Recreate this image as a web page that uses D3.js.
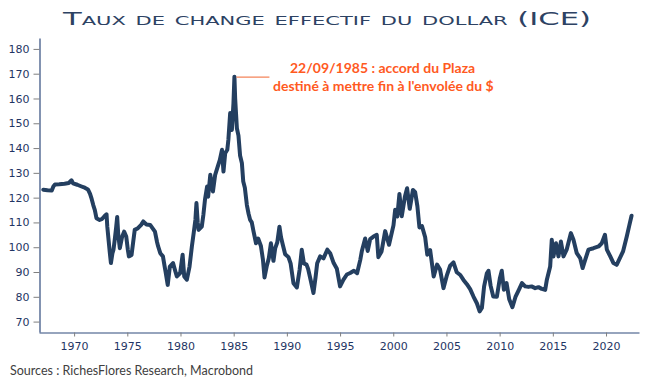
<!DOCTYPE html>
<html><head><meta charset="utf-8">
<script src="https://cdn.jsdelivr.net/npm/d3@7"></script>
<style>
html,body{margin:0;padding:0;background:#fff;}
svg{display:block;}
</style></head>
<body>
<svg id="chart" width="652" height="391"></svg>
<script>
const titleText = "Taux de change effectif du dollar (ICE)";
const sourceText = "Sources : RichesFlores Research, Macrobond";
const noteLines = ["22/09/1985 : accord du Plaza", "destiné à mettre fin à l'envolée du $"];
const xTicks = [1970,1975,1980,1985,1990,1995,2000,2005,2010,2015,2020];
const yTicks = [70,80,90,100,110,120,130,140,150,160,170,180];
const years = [1967.10,1967.50,1967.90,1968.05,1968.20,1968.6,1969.1,1969.5,1969.76,1969.9,1970.3,1970.7,1971.0,1971.3,1971.5,1971.65,1971.8,1971.95,1972.1,1972.4,1972.6,1972.85,1973.05,1973.12,1973.25,1973.35,1973.46,1973.6,1973.7,1973.8,1973.95,1974.05,1974.15,1974.3,1974.5,1974.7,1974.9,1975.05,1975.15,1975.4,1975.55,1975.7,1976.0,1976.3,1976.5,1976.8,1977.15,1977.4,1977.6,1977.8,1977.9,1978.1,1978.35,1978.5,1978.6,1978.8,1979.0,1979.3,1979.5,1979.66,1979.97,1980.2,1980.35,1980.6,1980.85,1981.07,1981.25,1981.4,1981.5,1981.62,1981.7,1982.0,1982.15,1982.3,1982.5,1982.6,1982.8,1983.05,1983.26,1983.5,1983.7,1983.9,1984.04,1984.2,1984.4,1984.5,1984.67,1984.83,1984.98,1985.07,1985.14,1985.2,1985.3,1985.45,1985.6,1985.77,1985.9,1986.05,1986.24,1986.4,1986.55,1986.7,1986.86,1987.1,1987.3,1987.56,1987.75,1987.9,1988.1,1988.3,1988.5,1988.74,1988.9,1989.1,1989.3,1989.45,1989.6,1989.84,1990.15,1990.35,1990.62,1990.94,1991.2,1991.4,1991.6,1991.85,1992.0,1992.25,1992.5,1992.7,1992.85,1993.13,1993.44,1993.8,1994.07,1994.4,1994.7,1995.0,1995.32,1995.64,1995.95,1996.3,1996.6,1996.9,1997.05,1997.36,1997.6,1997.83,1998.14,1998.45,1998.6,1998.9,1999.24,1999.6,2000.02,2000.18,2000.38,2000.58,2000.8,2001.1,2001.3,2001.55,2001.85,2002.06,2002.27,2002.46,2002.7,2003.0,2003.2,2003.47,2003.8,2004.12,2004.4,2004.72,2005.03,2005.35,2005.66,2005.97,2006.3,2006.6,2006.92,2007.23,2007.54,2007.86,2008.12,2008.33,2008.54,2008.8,2008.95,2009.15,2009.4,2009.74,2010.02,2010.2,2010.4,2010.65,2010.9,2011.2,2011.5,2011.85,2012.1,2012.4,2012.7,2013.0,2013.34,2013.65,2013.96,2014.28,2014.44,2014.75,2014.9,2015.06,2015.3,2015.53,2015.76,2016.0,2016.3,2016.7,2016.94,2017.25,2017.57,2017.8,2018.04,2018.35,2018.82,2019.3,2019.6,2019.9,2020.08,2020.4,2020.7,2021.0,2021.3,2021.6,2021.95,2022.2,2022.4];
const values = [123.2,123.0,122.9,124.5,125.3,125.4,125.6,125.9,127.0,125.8,125.2,124.5,124.0,123.3,121.5,119.5,117.0,115.0,111.7,111.0,111.3,112.5,113.3,108.3,102.5,98,93.6,97.5,99,102.3,108,112.2,105,99.6,104,106.3,104.3,99,96.3,96.9,102,107,107.7,109,110.4,109.2,109,107.5,106.3,102,100.3,97.6,96.3,92.5,90,84.8,92.2,93.6,90.5,88.2,89.6,97,88.2,86.9,92.2,100.3,106,111,117.8,110,107,108.3,113,119.1,124.5,120.4,129.2,122.5,129.2,132.5,135.2,139.3,130.5,137.9,139.3,143.3,154.1,147.3,158.1,168.8,160,155.4,148,145,137,134,126.5,124,117,113.5,111,110,106.5,101.6,103.5,100.5,95,87.8,92.2,95.5,101.6,94.5,99.5,102,108.3,104,101.3,97.2,96,93.5,85.5,83.8,91,99,93.5,93,91.2,86.5,81.5,88,93.5,96.3,95.5,99,97.6,93.6,91.3,84.2,86.9,89,89.6,90.5,89.5,94.9,98.5,103.5,98.5,103.3,104.3,105,96,98.3,106.5,101,108.8,115.1,112.4,121.5,112.5,120.5,123.8,115.5,123.1,122.2,116.5,108,108.5,104,97,98.8,88.2,93,91,83.5,88.5,92.6,93.9,89.9,88.8,86.8,85.1,83.1,80.1,77.4,74.1,75.5,84.2,89.5,90.5,84.5,80.1,80,87.5,90.5,82.8,85.5,79,75.8,80.1,83.2,85.5,84.2,84,84.2,83.5,83.9,83.2,82.8,86.9,92.2,103,96.3,101.6,96.3,102.3,96.3,99,105.7,103,97.6,95.6,91.6,94.9,99,99.6,100.3,101.6,105,99,96.3,93.6,92.9,95.6,98.3,104.3,109,112.7];
const peakYear = 1985.07, peakValue = 168.8;

const svg = d3.select("#chart");
const navy = "#243f60";
const axisBlue = "#2f4a7c";
const labelBlue = "#1f3564";
const orange = "#ff5a1f";

const x = d3.scaleLinear().domain([1966.7, 2023.1]).range([39, 639]);
const y = d3.scaleLinear().domain([65.8, 184.4]).range([332, 38]);

// title
svg.append("text")
  .attr("x", 327).attr("y", 25)
  .attr("text-anchor", "middle")
  .attr("textLength", 528).attr("lengthAdjust", "spacingAndGlyphs")
  .style("font-family", "'DejaVu Sans', sans-serif")
  .style("font-size", "17.5px")
  .style("font-variant", "small-caps")
  .style("fill", "#2d4263")
  .text(titleText);

// axes
const yAxis = svg.append("g").attr("transform", "translate(39.5,0)")
  .call(d3.axisLeft(y).tickValues(yTicks).tickSize(6).tickPadding(4).tickSizeOuter(0));
const xAxis = svg.append("g").attr("transform", "translate(0,332.5)")
  .call(d3.axisBottom(x).tickValues(xTicks).tickFormat(d3.format("d")).tickSize(4).tickPadding(6).tickSizeOuter(0));
[yAxis, xAxis].forEach(g => {
  g.select(".domain").attr("stroke", axisBlue).attr("stroke-width", 1.2);
  g.selectAll(".tick line").attr("stroke", "#7f7f7f");
  g.selectAll(".tick text")
    .style("font-family", "'DejaVu Sans', sans-serif")
    .style("font-size", "11px")
    .attr("fill", labelBlue);
});

// series
const pts = years.map((yr, i) => [yr, values[i]]);
const line = d3.line().x(d => x(d[0])).y(d => y(d[1]));
svg.append("path")
  .datum(pts)
  .attr("d", line)
  .attr("fill", "none")
  .attr("stroke", navy)
  .attr("stroke-width", 4)
  .attr("stroke-linejoin", "round")
  .attr("stroke-linecap", "round");

// annotation
svg.append("line")
  .attr("x1", x(peakYear) + 2).attr("x2", x(peakYear) + 35)
  .attr("y1", y(peakValue) + 0.5).attr("y2", y(peakValue) + 0.5)
  .attr("stroke", "#f4845a").attr("stroke-width", 1.3);
const noteX = [290, 273];
const noteY = [73, 91];
noteLines.forEach((t, i) => {
  svg.append("text")
    .attr("x", noteX[i]).attr("y", noteY[i])
    .style("font-family", "Lato, sans-serif")
    .style("font-weight", "700")
    .style("font-size", "14px")
    .style("fill", orange)
    .text(t);
});

// source
svg.append("text")
  .attr("x", 10).attr("y", 375)
  .style("font-family", "Lato, sans-serif")
  .style("font-size", "12.5px")
  .style("fill", "#404040")
  .text(sourceText);
</script>
</body></html>
